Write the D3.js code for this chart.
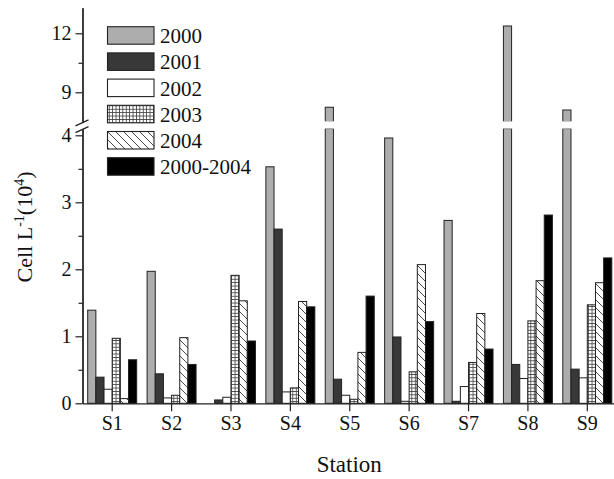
<!DOCTYPE html>
<html>
<head>
<meta charset="utf-8">
<script src="https://cdn.jsdelivr.net/npm/d3@7"></script>
<style>
  body { margin: 0; background: #fff; }
</style>
</head>
<body>
<div id="chart"></div>
<script>
// chart values
const stations = ["S1", "S2", "S3", "S4", "S5", "S6", "S7", "S8", "S9"];
const series = ["2000", "2001", "2002", "2003", "2004", "2000-2004"];
const v2000 = [1.39, 1.97, 0, 3.53, 8.24, 3.96, 2.73, 12.37, 8.1];
const v2001 = [0.39, 0.44, 0.05, 2.6, 0.36, 0.99, 0.03, 0.58, 0.51];
const v2002 = [0.21, 0.08, 0.09, 0.17, 0.12, 0.03, 0.25, 0.37, 0.38];
const v2003 = [0.97, 0.12, 1.91, 0.23, 0.06, 0.47, 0.61, 1.23, 1.47];
const v2004 = [0.07, 0.98, 1.53, 1.52, 0.76, 2.07, 1.34, 1.83, 1.8];
const vMean = [0.65, 0.58, 0.93, 1.44, 1.6, 1.22, 0.81, 2.81, 2.17];
const lowerTicks = [0, 1, 2, 3, 4];
const lowerMinor = [0.5, 1.5, 2.5, 3.5];
const upperTicks = [9, 12];
const upperMinor = [10.5];

const values = [v2000, v2001, v2002, v2003, v2004, vMean];
const rows = [];
stations.forEach((s, i) => {
  series.forEach((k, j) => rows.push({ station: s, key: k, value: values[j][i] }));
});

const width = 614, height = 479;
const axisX = 82.5;
const serif = "Liberation Serif";

const svg = d3.select("#chart").append("svg")
  .attr("width", width)
  .attr("height", height);

// fill patterns
const defs = svg.append("defs");
const grid = defs.append("pattern")
  .attr("id", "grid")
  .attr("patternUnits", "userSpaceOnUse")
  .attr("width", 3.4).attr("height", 3.4);
grid.append("rect").attr("width", 3.4).attr("height", 3.4).attr("fill", "#fff");
grid.append("path").attr("d", "M0,0.4H3.4M0.4,0V3.4")
  .attr("stroke", "#444").attr("stroke-width", 0.9);

const hatch = defs.append("pattern")
  .attr("id", "hatch")
  .attr("patternUnits", "userSpaceOnUse")
  .attr("width", 8).attr("height", 8);
hatch.append("rect").attr("width", 8).attr("height", 8).attr("fill", "#fff");
hatch.append("path").attr("d", "M-2,-2L10,10M-2,6L2,10M6,-2L10,2")
  .attr("stroke", "#333").attr("stroke-width", 0.9);

const fills = {
  "2000": "#adadad",
  "2001": "#383838",
  "2002": "#ffffff",
  "2003": "url(#grid)",
  "2004": "url(#hatch)",
  "2000-2004": "#000"
};

// scales: broken y axis (lower 0-4.1, upper 7.5-13.3)
const x0 = d3.scaleBand().domain(stations).range([axisX, 617])
  .paddingInner(0.175).paddingOuter(0.0875);
const x1 = d3.scaleBand().domain(series).range([0, x0.bandwidth()]);
const yLow = d3.scaleLinear().domain([0, 4.1]).range([403.3, 128.6]);
const yUp = d3.scaleLinear().domain([7.5, 13.3]).range([121.8, 7.7]);

// bars
const bars = svg.append("g");
rows.forEach(d => {
  const bx = x0(d.station) + x1(d.key);
  const top = Math.min(d.value, 4.1);
  bars.append("rect")
    .attr("x", bx)
    .attr("y", yLow(top))
    .attr("width", x1.bandwidth())
    .attr("height", yLow(0) - yLow(top))
    .attr("fill", fills[d.key])
    .attr("stroke", "#222")
    .attr("stroke-width", 1);
  if (d.value > 7.5) {
    bars.append("rect")
      .attr("x", bx)
      .attr("y", yUp(d.value))
      .attr("width", x1.bandwidth())
      .attr("height", yUp(7.5) - yUp(d.value))
      .attr("fill", fills[d.key])
      .attr("stroke", "#222")
      .attr("stroke-width", 1);
    // white gap of the break
    bars.append("rect")
      .attr("x", bx - 1.5)
      .attr("y", yUp(7.5) - 0.5)
      .attr("width", x1.bandwidth() + 3)
      .attr("height", yLow(4.1) - yUp(7.5) + 0.5)
      .attr("fill", "#fff");
  }
});

// x axis
const xAxis = svg.append("g")
  .attr("transform", `translate(0,${yLow(0)})`)
  .call(d3.axisBottom(x0).tickSize(8).tickSizeOuter(0).tickPadding(5));
xAxis.attr("font-family", serif);
xAxis.select(".domain").attr("stroke", "#222").attr("stroke-width", 1.3);
xAxis.selectAll(".tick line").attr("stroke", "#222").attr("stroke-width", 1.2);
xAxis.selectAll("text").attr("font-family", serif).attr("font-size", 20).attr("fill", "#111");

// y axis, lower and upper parts
function styleY(g) {
  g.attr("font-family", serif);
  g.select(".domain").attr("stroke", "#222").attr("stroke-width", 1.3);
  g.selectAll(".tick line").attr("stroke", "#222").attr("stroke-width", 1.2);
  g.selectAll("text").attr("font-family", serif).attr("font-size", 20).attr("fill", "#111");
}
const fmt = d3.format("d");
svg.append("g").attr("transform", `translate(${axisX},0)`)
  .call(d3.axisLeft(yLow).tickValues(lowerMinor).tickSize(4).tickSizeOuter(0).tickFormat(""))
  .call(styleY);
svg.append("g").attr("transform", `translate(${axisX},0)`)
  .call(d3.axisLeft(yLow).tickValues(lowerTicks).tickSize(7).tickSizeOuter(0).tickPadding(4).tickFormat(fmt))
  .call(styleY);
svg.append("g").attr("transform", `translate(${axisX},0)`)
  .call(d3.axisLeft(yUp).tickValues(upperMinor).tickSize(4).tickSizeOuter(0).tickFormat(""))
  .call(styleY);
svg.append("g").attr("transform", `translate(${axisX},0)`)
  .call(d3.axisLeft(yUp).tickValues(upperTicks).tickSize(7).tickSizeOuter(0).tickPadding(4).tickFormat(fmt))
  .call(styleY);

// break marks on the axis
const brk = svg.append("g").attr("stroke", "#222").attr("stroke-width", 1.3);
brk.append("line").attr("x1", axisX - 7).attr("y1", yUp(7.5) + 4)
  .attr("x2", axisX + 6).attr("y2", yUp(7.5) - 2);
brk.append("line").attr("x1", axisX - 7).attr("y1", yLow(4.1) + 4)
  .attr("x2", axisX + 6).attr("y2", yLow(4.1) - 2);

// axis titles
svg.append("text")
  .attr("x", (axisX + width) / 2 + 1)
  .attr("y", 472)
  .attr("text-anchor", "middle")
  .attr("font-family", serif)
  .attr("font-size", 23)
  .attr("fill", "#111")
  .text("Station");

const yt = svg.append("text")
  .attr("transform", "translate(32,227) rotate(-90)")
  .attr("text-anchor", "middle")
  .attr("font-family", serif)
  .attr("font-size", 22)
  .attr("fill", "#111");
yt.append("tspan").text("Cell L");
yt.append("tspan").attr("dy", -8).attr("font-size", 14).text("-1");
yt.append("tspan").attr("dy", 8).text("(10");
yt.append("tspan").attr("dy", -8).attr("font-size", 14).text("4");
yt.append("tspan").attr("dy", 8).text(")");

// legend
const legend = svg.append("g");
series.forEach((k, i) => {
  const ly = 26.7 + i * 26.2;
  legend.append("rect")
    .attr("x", 107.5).attr("y", ly)
    .attr("width", 46.5).attr("height", 17.5)
    .attr("fill", fills[k])
    .attr("stroke", "#222").attr("stroke-width", 1.1);
  legend.append("text")
    .attr("x", 160).attr("y", ly + 16.5)
    .attr("font-family", serif)
    .attr("font-size", 21)
    .attr("fill", "#111")
    .text(k);
});
</script>
</body>
</html>
